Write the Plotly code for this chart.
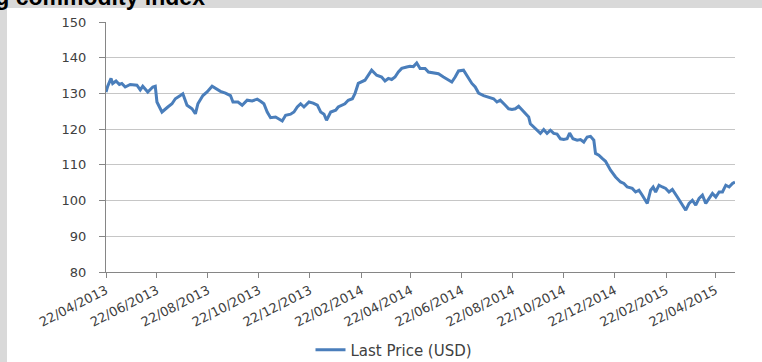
import plotly.graph_objects as go

# ---- data ----
dates = [
    "2013-04-22", "2013-04-24", "2013-04-28", "2013-04-30", "2013-05-04", "2013-05-08",
    "2013-05-11", "2013-05-15", "2013-05-21", "2013-05-29", "2013-06-02", "2013-06-05",
    "2013-06-11", "2013-06-17", "2013-06-20", "2013-06-22", "2013-06-28", "2013-07-02",
    "2013-07-05", "2013-07-10", "2013-07-14", "2013-07-20", "2013-07-23", "2013-07-28",
    "2013-08-03", "2013-08-07", "2013-08-10", "2013-08-16", "2013-08-21", "2013-08-27",
    "2013-08-31", "2013-09-06", "2013-09-12", "2013-09-18", "2013-09-21", "2013-09-27",
    "2013-10-02", "2013-10-08", "2013-10-14", "2013-10-20", "2013-10-24", "2013-10-28",
    "2013-11-01", "2013-11-05", "2013-11-11", "2013-11-15", "2013-11-19", "2013-11-23",
    "2013-11-29", "2013-12-03", "2013-12-07", "2013-12-11", "2013-12-15", "2013-12-21",
    "2013-12-26", "2013-12-31", "2014-01-04", "2014-01-08", "2014-01-11", "2014-01-16",
    "2014-01-22", "2014-01-25", "2014-01-30", "2014-02-02", "2014-02-06", "2014-02-11",
    "2014-02-14", "2014-02-18", "2014-02-26", "2014-03-02", "2014-03-06", "2014-03-12",
    "2014-03-18", "2014-03-22", "2014-03-26", "2014-03-30", "2014-04-03", "2014-04-07",
    "2014-04-11", "2014-04-17", "2014-04-21", "2014-04-25", "2014-04-29", "2014-05-03",
    "2014-05-09", "2014-05-13", "2014-05-19", "2014-05-25", "2014-05-31", "2014-06-06",
    "2014-06-10", "2014-06-14", "2014-06-18", "2014-06-24", "2014-06-28", "2014-07-04",
    "2014-07-08", "2014-07-12", "2014-07-18", "2014-07-24", "2014-07-30", "2014-08-03",
    "2014-08-07", "2014-08-13", "2014-08-17", "2014-08-21", "2014-08-25", "2014-08-29",
    "2014-09-02", "2014-09-06", "2014-09-10", "2014-09-12", "2014-09-16", "2014-09-20",
    "2014-09-24", "2014-09-28", "2014-10-02", "2014-10-06", "2014-10-10", "2014-10-14",
    "2014-10-18", "2014-10-22", "2014-10-26", "2014-10-29", "2014-11-02", "2014-11-07",
    "2014-11-11", "2014-11-15", "2014-11-19", "2014-11-23", "2014-11-27", "2014-11-29",
    "2014-12-03", "2014-12-07", "2014-12-11", "2014-12-17", "2014-12-23", "2014-12-29",
    "2015-01-02", "2015-01-06", "2015-01-12", "2015-01-16", "2015-01-20", "2015-01-24",
    "2015-01-30", "2015-02-03", "2015-02-06", "2015-02-09", "2015-02-13", "2015-02-17",
    "2015-02-21", "2015-02-25", "2015-03-01", "2015-03-07", "2015-03-13", "2015-03-17",
    "2015-03-21", "2015-03-25", "2015-03-29", "2015-04-02", "2015-04-06", "2015-04-10",
    "2015-04-14", "2015-04-18", "2015-04-22", "2015-04-26", "2015-04-30", "2015-05-04",
    "2015-05-08", "2015-05-12", "2015-05-15",
]

last_price = [
    130.4, 132.0, 134.2, 132.8, 133.5, 132.5,
    132.8, 131.8, 132.5, 132.3, 131.0, 132.0,
    130.4, 131.8, 132.0, 127.6, 124.8, 125.7,
    126.2, 127.1, 128.5, 129.4, 129.9, 126.7,
    125.7, 124.3, 127.1, 129.4, 130.4, 132.0,
    131.4, 130.6, 130.1, 129.4, 127.6, 127.6,
    126.7, 128.1, 127.9, 128.4, 127.8, 127.1,
    124.8, 123.2, 123.4, 122.9, 122.3, 123.9,
    124.2, 124.8, 126.2, 127.1, 126.2, 127.6,
    127.3, 126.7, 124.8, 124.2, 122.5, 124.8,
    125.3, 126.2, 126.7, 127.1, 128.1, 128.5,
    129.9, 132.8, 133.7, 135.1, 136.5, 135.1,
    134.6, 133.5, 134.2, 133.9, 134.6, 136.0,
    137.0, 137.4, 137.6, 137.5, 138.5, 137.0,
    137.0, 136.0, 135.7, 135.5, 134.6, 133.7,
    133.2, 134.6, 136.3, 136.5, 135.1, 132.8,
    131.8, 130.1, 129.4, 129.0, 128.5, 127.6,
    128.1, 126.7, 125.7, 125.5, 125.7, 126.4,
    125.3, 124.3, 123.4, 121.5, 120.6, 119.7,
    118.8, 119.9, 118.8, 119.7, 118.8, 118.6,
    117.3, 117.1, 117.3, 118.9, 117.3, 116.9,
    117.1, 116.4, 117.8, 118.0, 116.9, 113.2,
    112.7, 111.8, 111.0, 108.5, 106.6, 105.2,
    104.8, 103.8, 103.4, 102.4, 102.9, 101.5,
    99.2, 102.9, 103.8, 102.4, 104.3, 103.8,
    103.4, 102.4, 103.1, 101.0, 98.7, 97.3,
    99.2, 100.1, 98.7, 100.6, 101.5, 99.2,
    100.6, 102.0, 101.0, 102.4, 102.4, 104.3,
    103.8, 104.8, 105.2,
]

x_tick_dates = [
    "2013-04-22", "2013-06-22", "2013-08-22", "2013-10-22", "2013-12-22",
    "2014-02-22", "2014-04-22", "2014-06-22", "2014-08-22", "2014-10-22",
    "2014-12-22", "2015-02-22", "2015-04-22",
]
x_tick_labels = [
    "22/04/2013", "22/06/2013", "22/08/2013", "22/10/2013", "22/12/2013",
    "22/02/2014", "22/04/2014", "22/06/2014", "22/08/2014", "22/10/2014",
    "22/12/2014", "22/02/2015", "22/04/2015",
]
y_ticks = [80, 90, 100, 110, 120, 130, 140, 150]
series_name = "Last Price (USD)"
title_text = "Bloomberg commodity index"

# ---- figure ----
fig = go.Figure()
fig.add_trace(go.Scatter(
    x=dates, y=last_price, mode="lines", name=series_name,
    line=dict(color="#4a7ebb", width=3),
))

axis_gray = "#868686"
grid_gray = "#c6c6c6"
band_gray = "#d9d9d9"
tick_font = dict(family="DejaVu Sans", size=13, color="#404040")

fig.update_layout(
    width=762, height=362,
    margin=dict(l=106, r=27, t=22, b=90, autoexpand=False),
    paper_bgcolor="rgba(0,0,0,0)",
    plot_bgcolor="white",
    showlegend=True,
    legend=dict(
        orientation="h", xref="container", yref="container",
        x=394 / 762, y=(362 - 350) / 362, xanchor="center", yanchor="middle",
        font=dict(family="DejaVu Sans", size=15, color="#404040"),
        bgcolor="rgba(0,0,0,0)",
    ),
    xaxis=dict(
        type="date",
        range=["2013-04-22", "2015-05-15"],
        tickvals=x_tick_dates, ticktext=x_tick_labels,
        tickangle=-27,
        tickfont=tick_font,
        showgrid=False,
        showline=True, linecolor=axis_gray, linewidth=1,
        ticks="outside", ticklen=5, tickcolor=axis_gray,
        zeroline=False, automargin=False,
    ),
    yaxis=dict(
        range=[80, 150],
        tickvals=y_ticks,
        tickfont=tick_font,
        showgrid=True, gridcolor=grid_gray, gridwidth=1,
        showline=True, linecolor=axis_gray, linewidth=1,
        ticks="outside", ticklen=6, tickcolor=axis_gray,
        ticklabelstandoff=10,
        zeroline=False, automargin=False,
    ),
    annotations=[dict(
        text="<b>" + title_text + "</b>", xref="paper", yref="paper",
        x=(207 - 106) / 629, xanchor="right",
        y=(271.7 + 3) / 250, yanchor="middle",
        showarrow=False,
        font=dict(family="Liberation Sans", size=23, color="black"),
    )],
)

fig.write_html("out.html", config={"displayModeBar": False})

# page styling: no default margin; grey band along the top and left edges (spreadsheet frame)
band = "linear-gradient(" + band_gray + "," + band_gray + ")"
page_css = (
    "<style>html,body{margin:0;padding:0;overflow:hidden;width:100%;height:100%;}"
    "body{background:"
    + band + " left top/100% 8px no-repeat,"
    + band + " left top/7px 100% no-repeat,white;}</style>"
)

with open("out.html", "r", encoding="utf-8") as f:
    html = f.read()
html = html.replace("<head>", "<head>" + page_css, 1)
with open("out.html", "w", encoding="utf-8") as f:
    f.write(html)
